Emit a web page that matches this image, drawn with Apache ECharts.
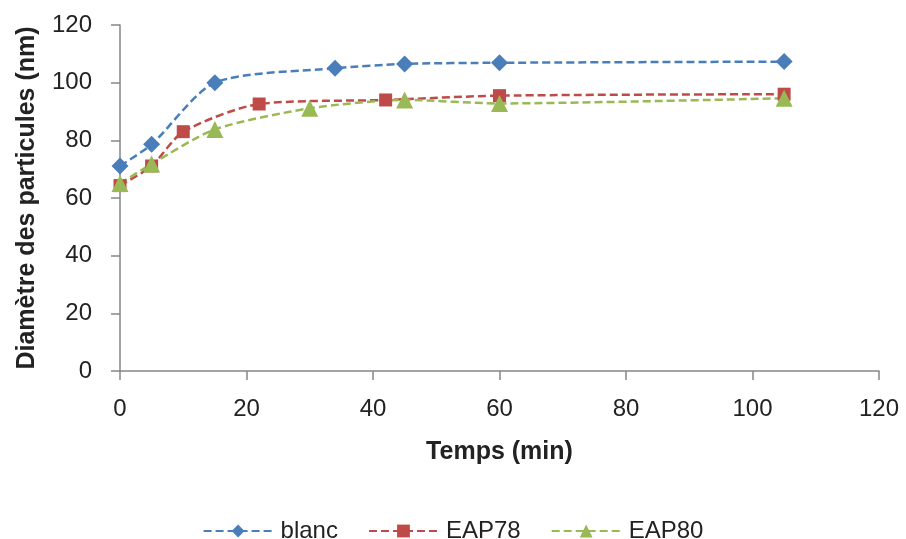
<!DOCTYPE html>
<html><head><meta charset="utf-8">
<script src="https://cdn.jsdelivr.net/npm/echarts@6/dist/echarts.min.js"></script>
<style>html,body{margin:0;padding:0;background:#fff}#c{width:906px;height:539px}</style>
</head><body><div id="c"></div>
<script>
const blancX = [0, 5, 15, 34, 45, 60, 105];
const blancY = [71.1, 78.6, 100.0, 105.0, 106.5, 106.9, 107.3];
const eap78X = [0, 5, 10, 22, 42, 60, 105];
const eap78Y = [64.3, 71.1, 83.0, 92.6, 94.0, 95.5, 96.0];
const eap80X = [0, 5, 15, 30, 45, 60, 105];
const eap80Y = [65.0, 71.8, 83.8, 91.1, 94.0, 92.8, 94.6];
const seriesNames = ['blanc', 'EAP78', 'EAP80'];
const xTitle = 'Temps (min)';
const yTitle = 'Diamètre des particules (nm)';

const pairs = (xs, ys) => xs.map((x, i) => [x, ys[i]]);
const font = 'Liberation Sans';
const axisBase = () => ({
  axisLine: {show: true, lineStyle: {color: '#868686', width: 1.5}},
  axisTick: {show: true, length: 9, lineStyle: {color: '#868686', width: 1.5}},
  splitLine: {show: false}
});
const lbl = (margin) => ({color: '#222', fontSize: 24, fontFamily: font, margin});
const nameStyle = {fontSize: 25, fontWeight: 'bold', color: '#222', fontFamily: font};
const mk = (name, xs, ys, color, symbol, size) => ({
  name, type: 'line', data: pairs(xs, ys), smooth: 0.25,
  symbol, symbolSize: size,
  lineStyle: {color, width: 2.5, type: [8, 4]},
  itemStyle: {color}
});
const chart = echarts.init(document.getElementById('c'));
chart.setOption({
  animation: false,
  backgroundColor: '#fff',
  grid: {left: 120, right: 27, top: 25, bottom: 168},
  xAxis: Object.assign({type: 'value', min: 0, max: 120, interval: 20,
    name: xTitle, nameLocation: 'middle', nameGap: 69, nameTextStyle: nameStyle,
    axisLabel: lbl(26)}, axisBase()),
  yAxis: Object.assign({type: 'value', min: 0, max: 120, interval: 20,
    name: yTitle, nameLocation: 'middle', nameGap: 80, nameTextStyle: nameStyle,
    axisLabel: lbl(28)}, axisBase()),
  legend: {top: 519, left: 'center', itemWidth: 69, itemHeight: 16, itemGap: 30, padding: 0,
    textStyle: {fontSize: 24, color: '#222', fontFamily: font, padding: [0, 0, 0, 3]},
    data: seriesNames},
  series: [
    mk(seriesNames[0], blancX, blancY, '#4A7EBB', 'diamond', 17),
    mk(seriesNames[1], eap78X, eap78Y, '#BE4B48', 'rect', 13),
    mk(seriesNames[2], eap80X, eap80Y, '#98B954', 'triangle', 17)
  ]
});
</script></body></html>
